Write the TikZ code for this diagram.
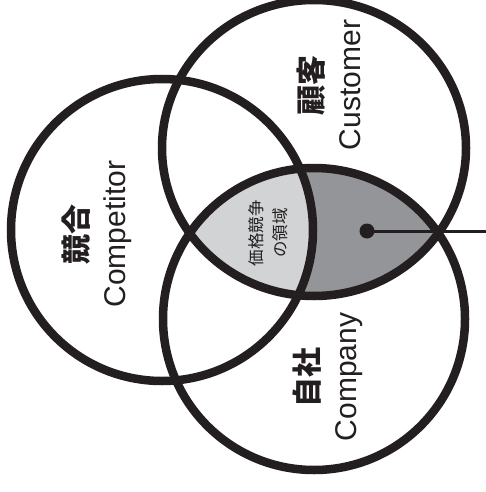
\documentclass[tikz,border=0pt]{standalone}
\usepackage{fontspec}
\setmainfont{Liberation Sans}
\newfontfamily\cjk{Noto Sans CJK JP}
\definecolor{ink}{HTML}{231F20}
\definecolor{lightg}{HTML}{D1D3D4}
\definecolor{darkg}{HTML}{939598}
\tikzset{
  ring/.style={draw=ink, line width=8.5pt},
  biglbl/.style={rotate=90, align=center, text=ink, inner sep=0pt,
    font=\fontsize{30}{38}\selectfont},
  smalllbl/.style={rotate=90, align=center, text=ink, inner sep=0pt,
    font=\cjk\fontsize{16.5}{23.5}\selectfont},
  pin/.style={circle, fill=ink, minimum size=15pt, inner sep=0pt},
  lead/.style={draw=ink, line width=3pt}
}
\begin{document}
\begin{tikzpicture}[x=1pt,y=-1pt]
\useasboundingbox (0,0) rectangle (486,492);
\fill[white] (0,0) rectangle (486,492);
% fills
\begin{scope}
  \clip (314,148) ellipse [x radius=152pt, y radius=148pt];
  \fill[darkg] (314,319) circle [radius=151pt];
  \clip (314,319) circle [radius=151pt];
  \fill[lightg] (162,230) circle [radius=151pt];
\end{scope}
% circles
\draw[ring] (162,230) circle [radius=151pt];
\draw[ring] (314,148) ellipse [x radius=152pt, y radius=148pt];
\draw[ring] (314,319) circle [radius=151pt];
% labels
\node[biglbl] (cust) at (329,85) {{\cjk\bfseries 顧客}\\Customer};
\node[biglbl] (comp) at (97,234) {{\cjk\bfseries 競合}\\Competitor};
\node[biglbl] (self) at (328,377) {{\cjk\bfseries 自社}\\Company};
\node[smalllbl] (price) at (268,233) {価格競争\\の領域};
% pointer
\node[pin] (dot) at (367,231) {};
\coordinate (tip) at (486,231);
\draw[lead] (dot.center) -- (tip);
\end{tikzpicture}
\end{document}
